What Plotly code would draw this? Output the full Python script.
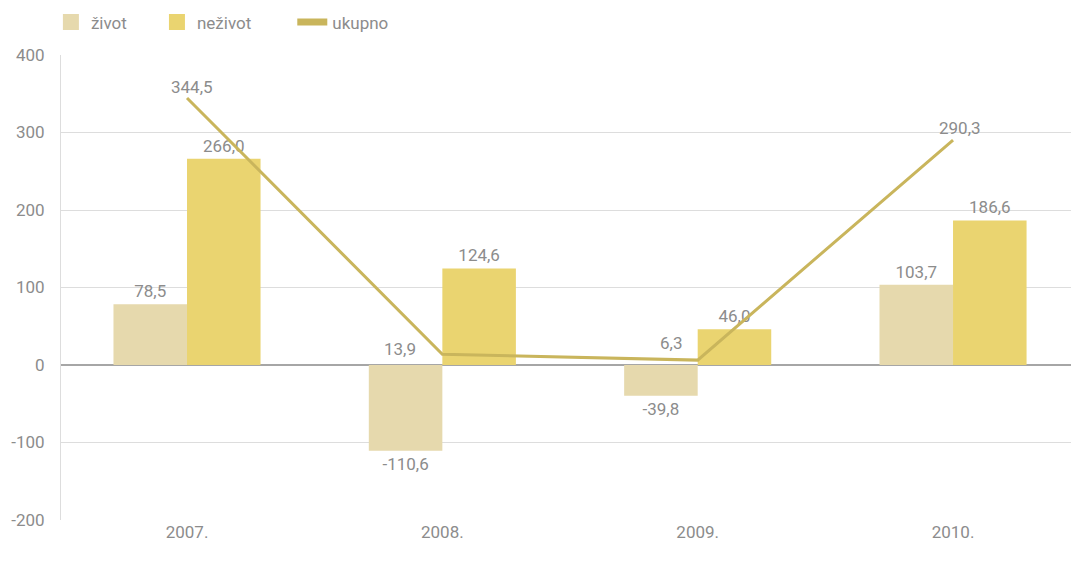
import plotly.graph_objects as go

# Godišnji rezultati po vrstama osiguranja
years = ["2007.", "2008.", "2009.", "2010."]
zivot = [78.5, -110.6, -39.8, 103.7]
nezivot = [266.0, 124.6, 46.0, 186.6]
ukupno = [344.5, 13.9, 6.3, 290.3]

y_ticks = [-200, -100, 0, 100, 200, 300, 400]

TEXT_GREY = "#8c8c8c"
FONT = "Roboto"
C_ZIVOT = "#e6d9ad"
C_NEZIVOT = "#ead470"
C_UKUPNO = "#c9b55c"


def fmt(v):
    # decimal comma, plain hyphen for negatives
    return f"{v:.1f}".replace(".", ",")


idx = list(range(len(years)))

fig = go.Figure()

fig.add_trace(go.Bar(
    name="život", x=idx, y=zivot, showlegend=False,
    marker=dict(color=C_ZIVOT, line=dict(width=0)),
    text=[fmt(v) for v in zivot], textposition="outside",
    textfont=dict(color=TEXT_GREY, size=17, family=FONT),
    cliponaxis=False,
))
fig.add_trace(go.Bar(
    name="neživot", x=idx, y=nezivot, showlegend=False,
    marker=dict(color=C_NEZIVOT, line=dict(width=0)),
    text=[fmt(v) for v in nezivot], textposition="outside",
    textfont=dict(color=TEXT_GREY, size=17, family=FONT),
    cliponaxis=False,
))
fig.add_trace(go.Scatter(
    name="ukupno", x=idx, y=ukupno, mode="lines", showlegend=False,
    line=dict(color=C_UKUPNO, width=3),
    cliponaxis=False,
))

# legend entries, each in its own legend box so spacing can be set
fig.add_trace(go.Scatter(
    name="život", x=[None], y=[None], mode="markers", legend="legend",
    marker=dict(symbol="square", size=21, color=C_ZIVOT),
))
fig.add_trace(go.Scatter(
    name="neživot", x=[None], y=[None], mode="markers", legend="legend2",
    marker=dict(symbol="square", size=21, color=C_NEZIVOT),
))
fig.add_trace(go.Scatter(
    name="ukupno", x=[None], y=[None], mode="lines", legend="legend3",
    line=dict(color=C_UKUPNO, width=7),
))

# labels for the total line, nudged off the line
label_offsets = [
    dict(xanchor="center", xshift=5, yshift=11),
    dict(xanchor="right", xshift=-24, yshift=5),
    dict(xanchor="right", xshift=-14, yshift=17),
    dict(xanchor="center", xshift=7, yshift=12),
]
for i, v, off in zip(idx, ukupno, label_offsets):
    fig.add_annotation(
        x=i, y=v, text=fmt(v), showarrow=False, yanchor="middle",
        font=dict(color=TEXT_GREY, size=17, family=FONT), **off,
    )

legend_style = dict(
    orientation="h", y=1.07, xanchor="left", yanchor="middle",
    font=dict(size=17, color=TEXT_GREY, family=FONT),
    itemwidth=30, bgcolor="rgba(0,0,0,0)",
)

fig.update_layout(
    width=1071, height=562,
    margin=dict(l=61, r=0, t=55, b=42),
    paper_bgcolor="white", plot_bgcolor="white",
    barmode="group", bargap=0.424, bargroupgap=0,
    font=dict(family=FONT, color=TEXT_GREY, size=17),
    showlegend=True,
    legend=dict(x=-0.010, **legend_style),
    legend2=dict(x=0.095, **legend_style),
    legend3=dict(x=0.229, **legend_style),
    xaxis=dict(
        range=[-0.4935, 3.462],
        tickvals=idx, ticktext=years,
        showgrid=False, showline=False, ticks="", zeroline=False,
        tickfont=dict(size=17, color=TEXT_GREY),
    ),
    yaxis=dict(
        range=[-200, 400], tickvals=y_ticks,
        ticktext=[str(t) for t in y_ticks],
        showgrid=True, gridcolor="#dddddd", gridwidth=1,
        zeroline=True, zerolinecolor="#a6a6a6", zerolinewidth=2,
        showline=True, linecolor="#dddddd", linewidth=1,
        ticks="", ticklabelstandoff=12,
        tickfont=dict(size=17, color=TEXT_GREY),
    ),
)

fig.write_html("out.html")
